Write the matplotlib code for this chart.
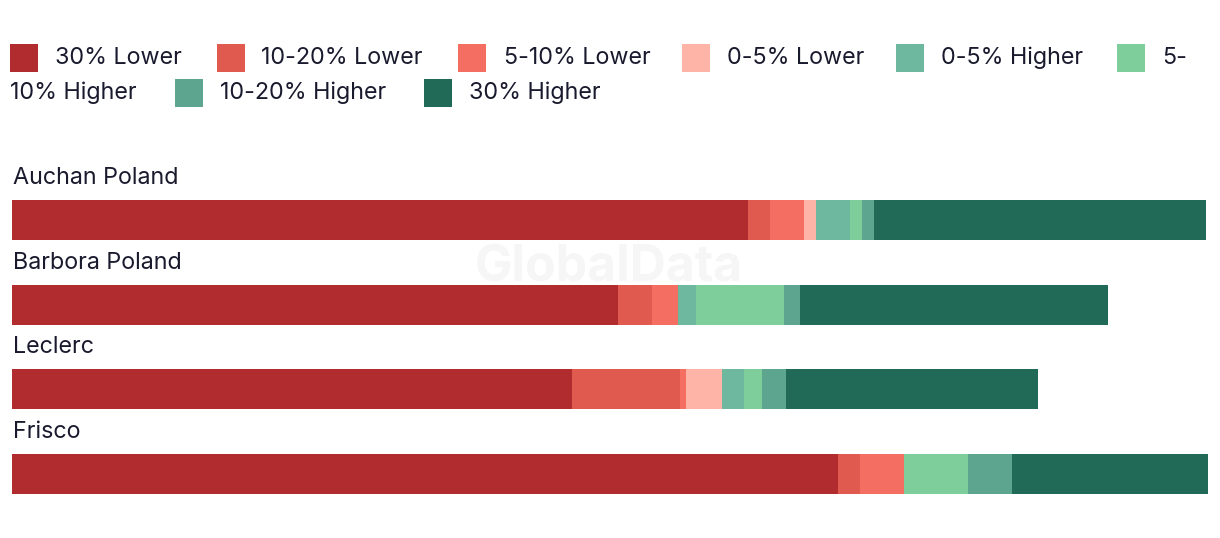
import numpy as np
import matplotlib
matplotlib.use("Agg")
import matplotlib.pyplot as plt
from matplotlib.patches import Rectangle

plt.rcParams['font.family'] = ['Inter', 'DejaVu Sans']

retailers = ['Auchan Poland', 'Barbora Poland', 'Leclerc', 'Frisco']
bands = ['30% Lower', '10-20% Lower', '5-10% Lower', '0-5% Lower',
         '0-5% Higher', '5-10% Higher', '10-20% Higher', '30% Higher']
colors = ['#b02c2f', '#e05a50', '#f56e62', '#ffb4a8',
          '#6fb8a0', '#7ece9c', '#5ea58f', '#216a58']

# number of products per price band, one list per band (order of retailers)
lower_30 = [368, 303, 280, 413]
lower_10_20 = [11, 17, 54, 11]
lower_5_10 = [17, 13, 3, 22]
lower_0_5 = [6, 0, 18, 0]
higher_0_5 = [17, 9, 11, 0]
higher_5_10 = [6, 44, 9, 32]
higher_10_20 = [6, 8, 12, 22]
higher_30 = [166, 154, 126, 98]

series = [lower_30, lower_10_20, lower_5_10, lower_0_5,
          higher_0_5, higher_5_10, higher_10_20, higher_30]

W, H = 1220, 538
text_col = '#1a1a2e'
fs = 16.8

fig = plt.figure(figsize=(W / 100, H / 100), dpi=100)


def fx(px):
    return px / W


def fy(py):
    return 1 - py / H


# bars
ax = fig.add_axes([fx(12), fy(516.3), fx(1196), 338.6 / H])
y = np.arange(len(retailers))
left = np.zeros(len(retailers))
for vals, col in zip(series, colors):
    vals = np.array(vals)
    ax.barh(y, vals, left=left, height=0.472, color=col, linewidth=0)
    left += vals
ax.set_xlim(0, left.max())
ax.set_ylim(3.5, -0.5)
ax.axis('off')

for i, name in enumerate(retailers):
    ax.text(0.5, i - 0.425, name, ha='left', va='baseline',
            fontsize=fs, color=text_col, clip_on=False)

# watermark
fig.text(fx(609), fy(268), 'GlobalData', ha='center', va='center',
         fontsize=36, fontweight='bold', color='#808080', alpha=0.07)

# legend, laid out like the wrapped html legend
legend_pos = [  # (square x, text x, row)
    (10, 55, 0), (217, 261, 0), (458, 504, 0), (682, 727, 0),
    (896, 941, 0), (1117, 1162, 0), (175, 220, 1), (424, 469, 1)]
row_y = [58, 93]
sq = 28
for (sx, tx, r), lab, col in zip(legend_pos, bands, colors):
    cy = row_y[r]
    fig.add_artist(Rectangle((fx(sx), fy(cy + sq / 2)), fx(sq), sq / H,
                             transform=fig.transFigure, color=col, lw=0))
    if lab == '5-10% Higher':
        fig.text(fx(tx), fy(cy), '5-', ha='left', va='center',
                 fontsize=fs, color=text_col)
        fig.text(fx(10), fy(row_y[1]), '10% Higher', ha='left', va='center',
                 fontsize=fs, color=text_col)
    else:
        fig.text(fx(tx), fy(cy), lab, ha='left', va='center',
                 fontsize=fs, color=text_col)

fig.savefig('out.png', dpi=100)
